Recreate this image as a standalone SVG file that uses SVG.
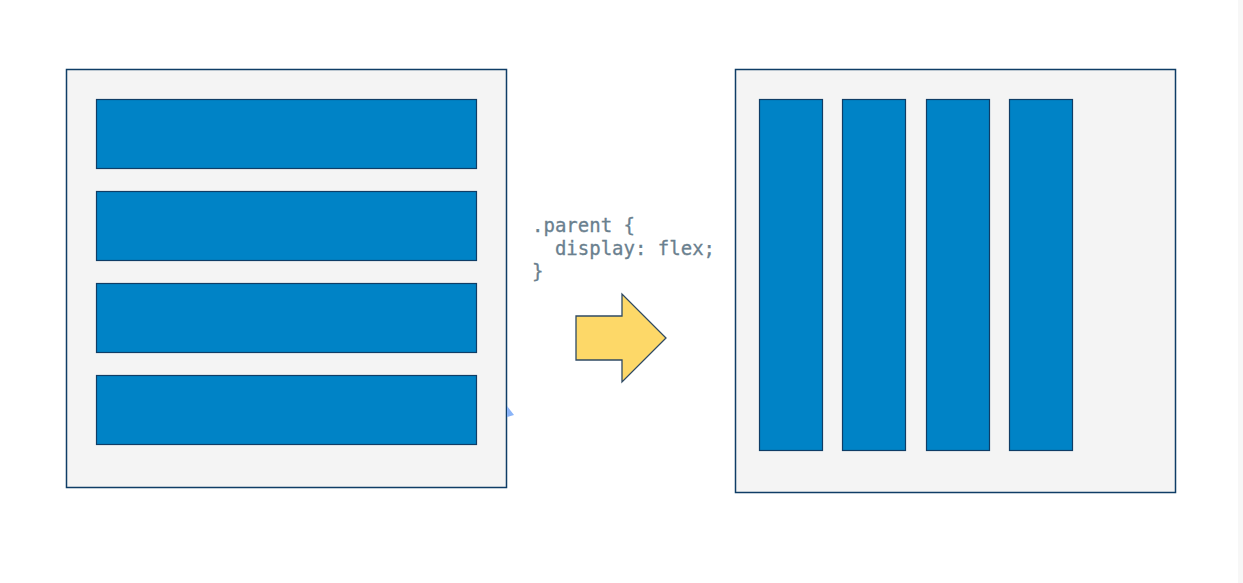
<svg xmlns="http://www.w3.org/2000/svg" width="1243" height="583" viewBox="0 0 1243 583">
<style>
.box{fill:#f4f4f4;stroke:#0f3d66;stroke-width:1.5}
.item{fill:#0083c6;stroke:#0f3d66;stroke-width:1.2}
.code{font-family:"DejaVu Sans Mono","Liberation Mono",monospace;font-size:19px;fill:#6a808e;stroke:#6a808e;stroke-width:0.3}
</style>
<rect width="1243" height="583" fill="#ffffff"/>
<rect x="1238" y="0" width="5" height="583" fill="#f7f7f7"/>
<g id="left-container">
<rect class="box" x="66.5" y="69.5" width="440" height="418"/>
<rect class="item" x="96.5" y="99.5" width="380" height="69"/>
<rect class="item" x="96.5" y="191.5" width="380" height="69"/>
<rect class="item" x="96.5" y="283.5" width="380" height="69"/>
<rect class="item" x="96.5" y="375.5" width="380" height="69"/>
</g>
<g id="right-container">
<rect class="box" x="735.5" y="69.5" width="440" height="423"/>
<rect class="item" x="759.5" y="99.5" width="63" height="351"/>
<rect class="item" x="842.5" y="99.5" width="63" height="351"/>
<rect class="item" x="926.5" y="99.5" width="63" height="351"/>
<rect class="item" x="1009.5" y="99.5" width="63" height="351"/>
</g>
<g id="code">
<text class="code" x="532" y="232">.parent {</text>
<text class="code" x="532" y="255" xml:space="preserve">  display: flex;</text>
<text class="code" x="532" y="278">}</text>
</g>
<g id="connectors">
<polygon points="576,316 622,316 622,294 666,338 622,382 622,360 576,360" fill="#fdd868" stroke="#2f4a63" stroke-width="1.3"/>
</g>
<polygon points="507,406 507,417 514,415" fill="#8ab4f8"/>
</svg>
